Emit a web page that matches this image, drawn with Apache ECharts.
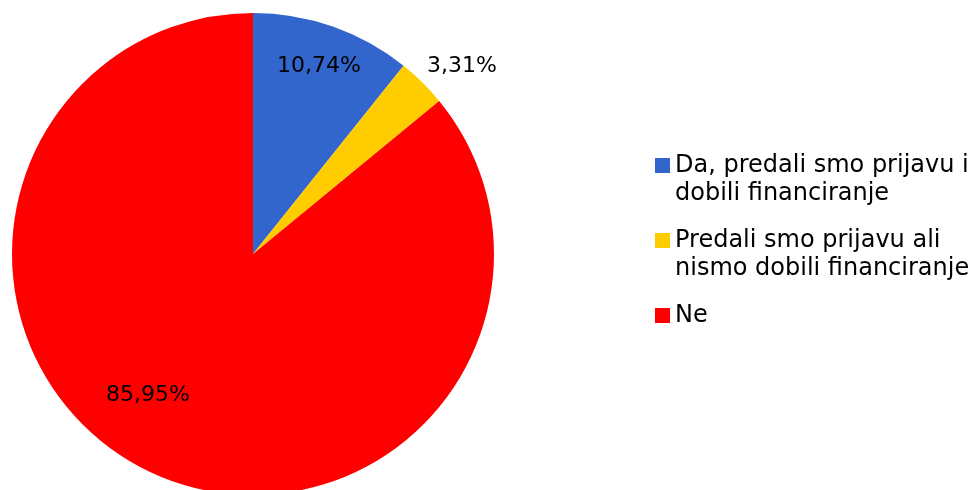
<!DOCTYPE html>
<html>
<head>
<meta charset="utf-8">
<script src="https://cdn.jsdelivr.net/npm/echarts@6/dist/echarts.min.js"></script>
<style>
html, body { margin: 0; padding: 0; background: #fff; }
#main { width: 974px; height: 490px; }
</style>
</head>
<body>
<div id="main"></div>
<script>
// odgovori
var categories = ['Da, predali smo prijavu i\ndobili financiranje', 'Predali smo prijavu ali\nnismo dobili financiranje', 'Ne\n '];
var values = [10.74, 3.31, 85.95];
var colors = ['#3366CC', '#FFCC00', '#FF0000'];

// where the percentage labels sit
var labelPos = [[319, 66], [462, 66], [148, 395]];

var chart = echarts.init(document.getElementById('main'));

var squareIcon = 'path://M0,0L15,0L15,15L0,15Z M0,44L15,44';

var option = {
    animation: false,
    textStyle: { fontFamily: 'DejaVu Sans' },
    legend: {
        orient: 'vertical',
        left: 655,
        top: 152,
        padding: 0,
        itemWidth: 15,
        itemHeight: 44,
        itemGap: 19,
        selectedMode: false,
        data: categories.map(function (c) {
            return { name: c, icon: squareIcon };
        }),
        textStyle: {
            fontFamily: 'DejaVu Sans',
            fontSize: 24,
            lineHeight: 28,
            color: '#000'
        }
    },
    series: [{
        type: 'pie',
        center: [253, 254],
        radius: 241,
        startAngle: 90,
        clockwise: true,
        silent: true,
        data: categories.map(function (c, i) {
            return { name: c, value: values[i], itemStyle: { color: colors[i] } };
        }),
        label: {
            show: true,
            position: 'inside',
            fontFamily: 'DejaVu Sans',
            fontSize: 22,
            color: '#000',
            formatter: function (p) {
                return p.value.toFixed(2).replace('.', ',') + '%';
            }
        },
        labelLine: { show: false },
        labelLayout: function (params) {
            var p = labelPos[params.dataIndex];
            return { x: p[0], y: p[1], align: 'center', verticalAlign: 'middle' };
        }
    }]
};

chart.setOption(option);
</script>
</body>
</html>
